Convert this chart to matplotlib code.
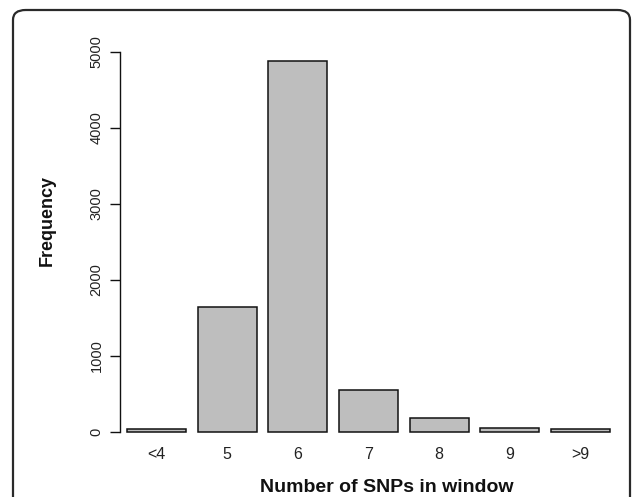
import matplotlib
matplotlib.use("Agg")
import matplotlib.pyplot as plt
from matplotlib.patches import FancyBboxPatch

categories = ["<4", "5", "6", "7", "8", "9", ">9"]
frequency = [40, 1650, 4880, 550, 180, 50, 35]
y_ticks = [0, 1000, 2000, 3000, 4000, 5000]

W, H = 633, 497
fig = plt.figure(figsize=(W / 100, H / 100), dpi=100)
plt.rcParams['font.family'] = ['Liberation Sans', 'DejaVu Sans']

# rounded border
border = FancyBboxPatch((13 / W, -20 / H), (630 - 13) / W, (H - 10 + 20) / H,
                        boxstyle="round,pad=0,rounding_size=0.02",
                        transform=fig.transFigure, fill=False,
                        edgecolor="#2a2a2a", linewidth=1.6, clip_on=False)
fig.patches.append(border)

# axes placement in pixels
ppu_x = 58.83
x0, x1 = 0.2 - 7.3 / ppu_x, 8.4 + 10.3 / ppu_x
ax_left, ax_right = 120, 620
ppu_y = 0.076
y0, y1 = -200, 5100
ax_bottom = 432 + 200 * ppu_y
ax_top = 52 - 100 * ppu_y
ax = fig.add_axes([ax_left / W, 1 - ax_bottom / H, (ax_right - ax_left) / W,
                   (ax_bottom - ax_top) / H])

centers = [0.7 + 1.2 * i for i in range(len(categories))]
ax.bar(centers, frequency, width=1.0, color="#BEBEBE", edgecolor="#111111",
       linewidth=1.1)
ax.set_xlim(x0, x1)
ax.set_ylim(y0, y1)

for s in ["top", "right", "bottom"]:
    ax.spines[s].set_visible(False)
ax.spines["left"].set_bounds(0, 5000)
ax.spines["left"].set_linewidth(1.0)
ax.spines["left"].set_color("#111111")

ax.set_yticks(y_ticks)
ax.set_yticklabels([str(v) for v in y_ticks], rotation=90, va="center",
                   fontsize=10.5, color="#222222")
ax.tick_params(axis="y", length=7.2, width=1.0, pad=4.5, color="#111111")

ax.set_xticks(centers)
ax.set_xticklabels(categories, fontsize=11.5, color="#222222")
ax.tick_params(axis="x", length=0, pad=0)

fig.text(387 / W, 1 - 488 / H, "Number of SNPs in window", ha="center",
         va="center", fontsize=14, fontweight="bold", color="#111111")
fig.text(47 / W, 1 - 221 / H, "Frequency", ha="center", va="center",
         rotation=90, fontsize=13, fontweight="bold", color="#111111")

fig.savefig("out.png", dpi=100, facecolor="white")
